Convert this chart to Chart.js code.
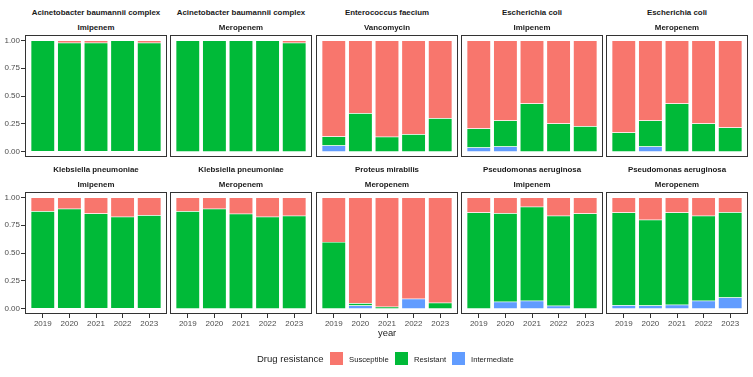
<!DOCTYPE html>
<html>
<head>
<meta charset="utf-8">
<script src="https://cdn.jsdelivr.net/npm/chart.js@4.4.1/dist/chart.umd.min.js"></script>
<style>
  body { margin: 0; background: #fff; font-family: "Liberation Sans", Arial, sans-serif; }
  #wrap { position: relative; width: 753px; height: 377px; overflow: hidden; }
  canvas { position: absolute; }
  .strip { position: absolute; width: 142px; text-align: center; font-weight: bold; font-size: 7.9px; color: #1a1a1a; white-space: nowrap; }
  .txt { position: absolute; color: #1a1a1a; white-space: nowrap; }
  .key { position: absolute; width: 13px; height: 13px; }
</style>
</head>
<body>
<div id="wrap"></div>
<script>
var years = ["2019", "2020", "2021", "2022", "2023"];
var organisms = ["Acinetobacter baumannii complex", "Acinetobacter baumannii complex", "Enterococcus faecium",
  "Escherichia coli", "Escherichia coli", "Klebsiella pneumoniae", "Klebsiella pneumoniae",
  "Proteus mirabilis", "Pseudomonas aeruginosa", "Pseudomonas aeruginosa"];
var antibiotics = ["Imipenem", "Meropenem", "Vancomycin", "Imipenem", "Meropenem",
  "Imipenem", "Meropenem", "Meropenem", "Imipenem", "Meropenem"];

var intermediate = [
  [0, 0, 0, 0, 0],
  [0, 0, 0, 0, 0],
  [0.054, 0, 0, 0, 0],
  [0.036, 0.045, 0, 0, 0],
  [0, 0.045, 0, 0, 0],
  [0, 0, 0, 0, 0],
  [0, 0, 0, 0, 0],
  [0, 0.027, 0, 0.087, 0],
  [0, 0.06, 0.069, 0.024, 0],
  [0.03, 0.027, 0.033, 0.069, 0.099]
];
var resistant = [
  [1.0, 0.98, 0.98, 1.0, 0.98],
  [1.0, 1.0, 1.0, 1.0, 0.98],
  [0.081, 0.345, 0.132, 0.156, 0.30],
  [0.171, 0.234, 0.432, 0.252, 0.228],
  [0.171, 0.234, 0.432, 0.252, 0.216],
  [0.877, 0.90, 0.856, 0.826, 0.841],
  [0.877, 0.90, 0.853, 0.826, 0.835],
  [0.60, 0.021, 0.015, 0, 0.051],
  [0.865, 0.799, 0.847, 0.811, 0.856],
  [0.835, 0.772, 0.832, 0.766, 0.769]
];
var susceptible = [
  [0, 0.02, 0.02, 0, 0.02],
  [0, 0, 0, 0, 0.02],
  [0.865, 0.655, 0.868, 0.844, 0.70],
  [0.793, 0.721, 0.568, 0.748, 0.772],
  [0.829, 0.721, 0.568, 0.748, 0.784],
  [0.123, 0.10, 0.144, 0.174, 0.159],
  [0.123, 0.10, 0.147, 0.174, 0.165],
  [0.40, 0.952, 0.985, 0.913, 0.949],
  [0.135, 0.141, 0.084, 0.165, 0.144],
  [0.135, 0.201, 0.135, 0.165, 0.132]
];
var yTicks = [0, 0.25, 0.5, 0.75, 1];

var colors = { Susceptible: "#F8766D", Resistant: "#00BA38", Intermediate: "#619CFF" };

var wrap = document.getElementById("wrap");
var colLeft = [25, 170, 316, 461, 606];
var rowTop = [35, 192];
var panelW = 142, panelH = 122, yAxisW = 25, xAxisH = 16;

// panel border
var boxPlugin = {
  id: "box",
  afterDraw: function (chart) {
    var a = chart.chartArea, c = chart.ctx;
    c.save();
    c.strokeStyle = "#333333";
    c.lineWidth = 1;
    c.strokeRect(a.left + 0.5, a.top + 0.5, a.right - a.left - 1, a.bottom - a.top - 1);
    c.restore();
  }
};

function pts(arr) {
  return arr.map(function (v, i) { return { x: i + 1, y: v }; });
}

function addDiv(cls, text, css) {
  var d = document.createElement("div");
  d.className = cls;
  d.textContent = text;
  for (var k in css) d.style[k] = css[k];
  wrap.appendChild(d);
  return d;
}

function makePanel(p) {
  var row = Math.floor(p / 5), col = p % 5;
  var px = colLeft[col], py = rowTop[row];
  var showY = col === 0, showX = row === 1;

  addDiv("strip", organisms[p], { left: px + "px", top: (py - 27) + "px" });
  addDiv("strip", antibiotics[p], { left: px + "px", top: (py - 12) + "px" });

  var cv = document.createElement("canvas");
  cv.width = panelW + yAxisW;
  cv.height = panelH + xAxisH;
  cv.style.left = (px - yAxisW) + "px";
  cv.style.top = py + "px";
  wrap.appendChild(cv);

  new Chart(cv.getContext("2d"), {
    type: "bar",
    data: {
      datasets: [
        { label: "Intermediate", data: pts(intermediate[p]), backgroundColor: colors.Intermediate },
        { label: "Resistant", data: pts(resistant[p]), backgroundColor: colors.Resistant },
        { label: "Susceptible", data: pts(susceptible[p]), backgroundColor: colors.Susceptible }
      ]
    },
    options: {
      responsive: false,
      animation: false,
      devicePixelRatio: 1,
      layout: { padding: 0 },
      datasets: { bar: { barPercentage: 0.9, categoryPercentage: 1, borderColor: "#ffffff", borderWidth: 0.5 } },
      plugins: { legend: { display: false }, tooltip: { enabled: false } },
      scales: {
        x: {
          type: "linear",
          stacked: true,
          offset: false,
          min: 0.33,
          max: 5.67,
          afterBuildTicks: function (s) { s.ticks = years.map(function (y, i) { return { value: i + 1 }; }); },
          afterFit: function (s) { s.height = xAxisH; s.paddingLeft = 0; s.paddingRight = 0; },
          border: { display: false },
          grid: { display: showX, offset: false, drawOnChartArea: false, drawTicks: true, tickLength: 4, color: "#333333" },
          ticks: {
            display: showX,
            padding: 1,
            maxRotation: 0,
            autoSkip: false,
            color: "#4d4d4d",
            font: { family: "Liberation Sans", size: 8 },
            callback: function (v) { return years[v - 1]; }
          }
        },
        y: {
          stacked: true,
          min: -0.05,
          max: 1.05,
          afterBuildTicks: function (s) { s.ticks = yTicks.map(function (v) { return { value: v }; }); },
          afterFit: function (s) { s.width = yAxisW; s.paddingTop = 0; s.paddingBottom = 0; },
          border: { display: false },
          grid: { display: showY, drawOnChartArea: false, drawTicks: true, tickLength: 4, color: "#333333" },
          ticks: {
            display: showY,
            padding: 1,
            color: "#4d4d4d",
            font: { family: "Liberation Sans", size: 8 },
            callback: function (v) { return v.toFixed(2); }
          }
        }
      }
    },
    plugins: [boxPlugin]
  });
}

for (var p = 0; p < 10; p++) makePanel(p);

// axis title and legend
addDiv("txt", "year", { left: "378px", top: "327px", fontSize: "9.4px" });
addDiv("txt", "Drug resistance", { left: "257px", top: "353px", fontSize: "9.5px" });
var legendItems = [["Susceptible", 330, 349], ["Resistant", 395, 414], ["Intermediate", 452, 471]];
legendItems.forEach(function (it) {
  var k = addDiv("key", "", { left: it[1] + "px", top: "352px" });
  k.style.background = colors[it[0]];
  addDiv("txt", it[0], { left: it[2] + "px", top: "355px", fontSize: "7.7px" });
});
</script>
</body>
</html>
